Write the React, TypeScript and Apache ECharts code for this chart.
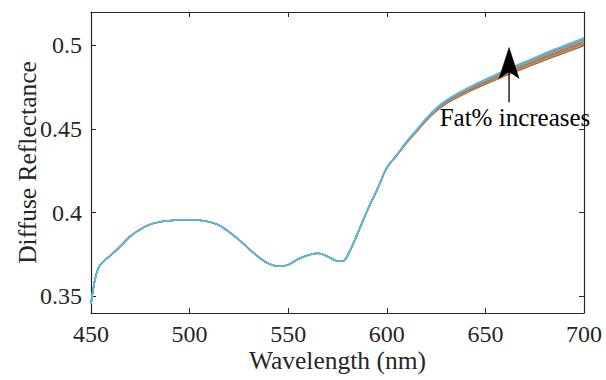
import React, { useEffect, useRef } from "react";
import * as echarts from "echarts";

// Shared part of all spectra (450–595 nm)
const wlLow = [450, 452, 454, 456, 460, 465, 470, 475, 480, 485, 490, 495, 500, 505, 510, 515, 520, 525, 530, 535, 540, 545, 550, 555, 560, 565, 570, 575, 578, 580, 585, 590, 595];
const reflLow = [0.3455, 0.36, 0.3675, 0.3705, 0.3745, 0.38, 0.386, 0.39, 0.393, 0.3945, 0.3952, 0.3957, 0.3958, 0.3955, 0.3945, 0.3925, 0.3885, 0.3838, 0.3785, 0.3735, 0.3695, 0.368, 0.3688, 0.3722, 0.3745, 0.3757, 0.3738, 0.371, 0.3712, 0.374, 0.387, 0.401, 0.4135];

// Diverging part (600–700 nm), one array per fat level
const wlHigh = [600, 605, 610, 615, 620, 625, 630, 635, 640, 645, 650, 655, 660, 665, 670, 675, 680, 685, 690, 695, 700];
const fat1 = [0.4268, 0.4341, 0.4417, 0.4483, 0.455, 0.4607, 0.4651, 0.4684, 0.4714, 0.4742, 0.4768, 0.4793, 0.4818, 0.4842, 0.4865, 0.4888, 0.4911, 0.4934, 0.4955, 0.4977, 0.4999];
const fat2 = [0.4268, 0.4342, 0.4418, 0.4485, 0.4553, 0.461, 0.4655, 0.4688, 0.4718, 0.4747, 0.4773, 0.4798, 0.4824, 0.4848, 0.4871, 0.4895, 0.4918, 0.4941, 0.4962, 0.4985, 0.5007];
const fat3 = [0.4268, 0.4342, 0.442, 0.4487, 0.4555, 0.4613, 0.4658, 0.4692, 0.4723, 0.4751, 0.4778, 0.4804, 0.4829, 0.4854, 0.4878, 0.4901, 0.4925, 0.4948, 0.497, 0.4992, 0.5015];
const fat4 = [0.4268, 0.4343, 0.4421, 0.4489, 0.4558, 0.4616, 0.4662, 0.4696, 0.4727, 0.4756, 0.4783, 0.4809, 0.4835, 0.486, 0.4884, 0.4908, 0.4932, 0.4955, 0.4978, 0.5, 0.5023];
const fat5 = [0.4268, 0.4344, 0.4422, 0.4491, 0.456, 0.4619, 0.4665, 0.47, 0.4731, 0.4761, 0.4788, 0.4814, 0.4841, 0.4866, 0.489, 0.4915, 0.4939, 0.4963, 0.4985, 0.5008, 0.5031];
const fat6 = [0.4268, 0.4344, 0.4424, 0.4493, 0.4563, 0.4622, 0.4668, 0.4704, 0.4736, 0.4765, 0.4793, 0.482, 0.4846, 0.4872, 0.4897, 0.4921, 0.4946, 0.497, 0.4992, 0.5015, 0.5039];
const fat7 = [0.4268, 0.4345, 0.4425, 0.4495, 0.4565, 0.4625, 0.4672, 0.4708, 0.474, 0.477, 0.4798, 0.4825, 0.4852, 0.4878, 0.4903, 0.4928, 0.4953, 0.4977, 0.5, 0.5023, 0.5047];

const fatSeries = [fat1, fat2, fat3, fat4, fat5, fat6, fat7];
const lineColors = ["#9a6b4a", "#d4823b", "#7d8fa8", "#b5703e", "#e08a3c", "#6f99c4", "#4dbeee"];

const xTicks = [450, 500, 550, 600, 650, 700];
const yTicks = [0.35, 0.4, 0.45, 0.5];

const annotationText = "Fat% increases";
const arrowTip = [662, 0.4988];
const arrowTail = [662, 0.466];
const labelPos = [665, 0.4568];

const FONT = "Liberation Serif";
const AXIS_COLOR = "#262626";

export default function App() {
  const ref = useRef<HTMLDivElement>(null);

  useEffect(() => {
    if (!ref.current) return;
    const chart = echarts.init(ref.current, undefined, { renderer: "svg" });

    const series = fatSeries.map((tail, i) => ({
      type: "line",
      xAxisIndex: 0,
      yAxisIndex: 0,
      data: [
        ...wlLow.map((w, j) => [w, reflLow[j]]),
        ...wlHigh.map((w, j) => [w, tail[j]]),
      ],
      showSymbol: false,
      smooth: 0.3,
      lineStyle: { color: lineColors[i], width: 1.5 },
      itemStyle: { color: lineColors[i] },
      z: 2 + i,
    }));

    const axisLine = { show: true, onZero: false, lineStyle: { color: AXIS_COLOR, width: 1.2 } };
    const tick = { show: true, inside: true, length: 5, lineStyle: { color: AXIS_COLOR, width: 1 } };

    chart.setOption({
      animation: false,
      textStyle: { fontFamily: FONT },
      grid: { left: 91, right: 22, top: 12, bottom: 67, containLabel: false, outerBoundsMode: "none" },
      xAxis: [
        {
          type: "value",
          min: 450,
          max: 700,
          interval: 50,
          position: "bottom",
          name: "Wavelength (nm)",
          nameLocation: "middle",
          nameGap: 34,
          nameMoveOverlap: false,
          nameTextStyle: { fontFamily: FONT, fontSize: 25.5, color: AXIS_COLOR },
          axisLine,
          axisTick: tick,
          splitLine: { show: false },
          axisLabel: {
            fontFamily: FONT,
            fontSize: 24,
            color: AXIS_COLOR,
            margin: 9,
            customValues: xTicks,
          },
        },
        {
          type: "value",
          min: 450,
          max: 700,
          interval: 50,
          position: "top",
          axisLine,
          axisTick: tick,
          axisLabel: { show: false },
          splitLine: { show: false },
        },
      ],
      yAxis: [
        {
          type: "value",
          min: 0.34,
          max: 0.52,
          position: "left",
          name: "Diffuse Reflectance",
          nameLocation: "middle",
          nameGap: 51,
          nameMoveOverlap: false,
          nameRotate: 90,
          nameTextStyle: { fontFamily: FONT, fontSize: 25.5, color: AXIS_COLOR },
          axisLine,
          axisTick: { ...tick, customValues: yTicks },
          splitLine: { show: false },
          axisLabel: {
            fontFamily: FONT,
            fontSize: 24,
            color: AXIS_COLOR,
            margin: 9,
            customValues: yTicks,
            formatter: (v: number) => String(Number(v.toFixed(2))),
          },
        },
        {
          type: "value",
          min: 0.34,
          max: 0.52,
          position: "right",
          axisLine,
          axisTick: { ...tick, customValues: yTicks },
          axisLabel: { show: false },
          splitLine: { show: false },
        },
      ],
      series,
    });

    const tip = chart.convertToPixel({ gridIndex: 0 }, arrowTip) as number[];
    const tail = chart.convertToPixel({ gridIndex: 0 }, arrowTail) as number[];
    const lab = chart.convertToPixel({ gridIndex: 0 }, labelPos) as number[];
    const hx = tip[0];
    const hy = tip[1];

    chart.setOption({
      graphic: [
        {
          type: "line",
          shape: { x1: hx, y1: hy + 24, x2: tail[0], y2: tail[1] },
          style: { stroke: "#000", lineWidth: 1.3 },
          z: 100,
        },
        {
          type: "polygon",
          shape: {
            points: [
              [hx, hy],
              [hx - 10, hy + 31],
              [hx, hy + 24],
              [hx + 10, hy + 31],
            ],
          },
          style: { fill: "#000", stroke: "#000", lineWidth: 0.5 },
          z: 100,
        },
        {
          type: "text",
          x: lab[0],
          y: lab[1],
          style: {
            text: annotationText,
            fontFamily: FONT,
            fontSize: 25,
            fill: "#000",
            align: "center",
            verticalAlign: "middle",
          },
          z: 101,
        },
      ],
    });

    return () => chart.dispose();
  }, []);

  return (
    <div
      ref={ref}
      style={{ position: "absolute", left: 0, top: 0, width: 606, height: 380 }}
    />
  );
}
